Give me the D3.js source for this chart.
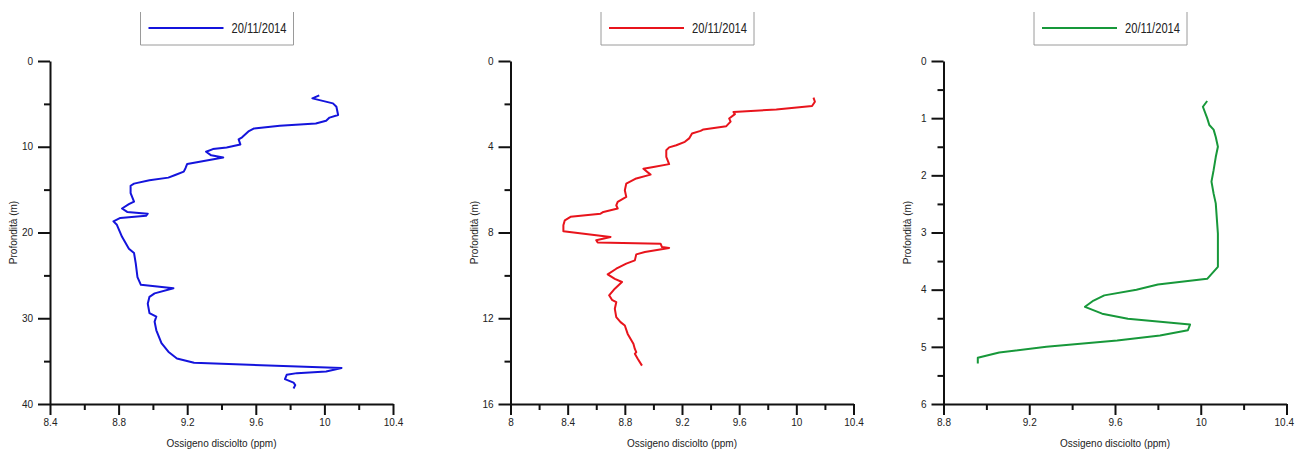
<!DOCTYPE html>
<html>
<head>
<meta charset="utf-8">
<script src="https://cdn.jsdelivr.net/npm/d3@7"></script>
<style>
  html, body { margin: 0; padding: 0; background: #ffffff; }
  svg { display: block; }
  text { font-family: "Liberation Sans", Arial, sans-serif; fill: #222; }
</style>
</head>
<body>
<svg id="chart" width="1295" height="450"></svg>
<script>
// Dissolved oxygen profiles, 20/11/2014 — three stations
const legendLabel = "20/11/2014";
const xTitle = "Ossigeno disciolto (ppm)";
const yTitle = "Profondità (m)";

// Station 1 (blue)
const depth1 = [4.0, 4.36, 4.94, 5.33, 6.3, 6.6, 6.97, 7.28, 7.55, 7.86, 8.17, 8.9, 9.14, 9.73, 10.08, 10.27, 10.58, 11.0, 11.25, 12.0, 12.5, 12.9, 13.3, 13.6, 13.9, 14.3, 14.55, 15.4, 16.4, 16.7, 17.2, 17.6, 17.8, 18.05, 18.3, 18.7, 19.1, 20.5, 21.9, 22.4, 23.6, 25.2, 26.1, 26.5, 27.1, 27.5, 28.3, 29.4, 29.8, 30.4, 31.4, 32.9, 33.9, 34.7, 35.2, 35.8, 36.2, 36.4, 36.6, 37.1, 37.5, 37.8, 38.2];
const oxygen1 = [9.97, 9.93, 10.05, 10.07, 10.08, 10.03, 10.01, 9.95, 9.74, 9.59, 9.56, 9.52, 9.50, 9.51, 9.43, 9.35, 9.31, 9.34, 9.41, 9.20, 9.19, 9.18, 9.13, 9.09, 8.98, 8.89, 8.87, 8.87, 8.89, 8.86, 8.82, 8.85, 8.97, 8.96, 8.81, 8.77, 8.79, 8.82, 8.86, 8.89, 8.90, 8.91, 8.93, 9.12, 9.01, 8.98, 8.97, 8.98, 9.02, 9.01, 9.02, 9.05, 9.09, 9.14, 9.24, 10.10, 10.01, 9.84, 9.78, 9.77, 9.82, 9.83, 9.82];

// Station 2 (red)
const depth2 = [1.71, 1.90, 2.10, 2.26, 2.38, 2.48, 2.68, 2.83, 3.04, 3.19, 3.26, 3.38, 3.61, 3.77, 3.93, 4.03, 4.16, 4.47, 4.81, 4.94, 5.03, 5.30, 5.48, 5.72, 6.03, 6.34, 6.57, 6.73, 6.88, 7.04, 7.12, 7.27, 7.43, 7.66, 7.94, 8.21, 8.36, 8.47, 8.52, 8.68, 8.72, 8.91, 9.02, 9.30, 9.45, 9.69, 9.95, 10.16, 10.31, 10.62, 10.93, 11.14, 11.25, 11.56, 11.95, 12.18, 12.34, 12.73, 13.19, 13.43, 13.58, 13.66, 13.89, 14.21];
const oxygen2 = [10.12, 10.13, 10.11, 9.86, 9.56, 9.57, 9.53, 9.54, 9.51, 9.35, 9.33, 9.27, 9.25, 9.22, 9.16, 9.11, 9.09, 9.09, 9.11, 9.00, 8.93, 8.98, 8.88, 8.81, 8.80, 8.81, 8.75, 8.74, 8.75, 8.65, 8.63, 8.42, 8.38, 8.37, 8.37, 8.70, 8.60, 8.61, 9.05, 9.06, 9.11, 8.94, 8.88, 8.87, 8.81, 8.74, 8.68, 8.73, 8.78, 8.73, 8.69, 8.71, 8.74, 8.73, 8.74, 8.77, 8.80, 8.82, 8.86, 8.87, 8.88, 8.87, 8.89, 8.92];

// Station 3 (green)
const depth3 = [0.70, 0.80, 1.00, 1.12, 1.20, 1.33, 1.50, 1.68, 1.91, 2.11, 2.32, 2.49, 3.02, 3.60, 3.81, 3.91, 4.00, 4.10, 4.19, 4.30, 4.42, 4.51, 4.61, 4.71, 4.80, 4.89, 5.00, 5.10, 5.19, 5.29];
const oxygen3 = [10.03, 10.01, 10.03, 10.04, 10.06, 10.07, 10.08, 10.07, 10.06, 10.05, 10.06, 10.07, 10.08, 10.08, 10.03, 9.80, 9.70, 9.55, 9.50, 9.46, 9.54, 9.66, 9.95, 9.94, 9.81, 9.61, 9.28, 9.06, 8.96, 8.96];

// Axis ranges and tick values
const xDomain1 = [8.4, 10.4], xMajor1 = [8.4, 8.8, 9.2, 9.6, 10, 10.4], xMinor1 = [8.6, 9.0, 9.4, 9.8, 10.2];
const yDomain1 = [0, 40], yMajor1 = [0, 10, 20, 30, 40], yMinor1 = [5, 15, 25, 35];
const xDomain2 = [8, 10.4], xMajor2 = [8, 8.4, 8.8, 9.2, 9.6, 10, 10.4], xMinor2 = [8.2, 8.6, 9.0, 9.4, 9.8, 10.2];
const yDomain2 = [0, 16], yMajor2 = [0, 4, 8, 12, 16], yMinor2 = [2, 6, 10, 14];
const xDomain3 = [8.8, 10.4], xMajor3 = [8.8, 9.2, 9.6, 10, 10.4], xMinor3 = [9.0, 9.4, 9.8, 10.2];
const yDomain3 = [0, 6], yMajor3 = [0, 1, 2, 3, 4, 5, 6], yMinor3 = [0.5, 1.5, 2.5, 3.5, 4.5, 5.5];

const svg = d3.select("#chart");
const fmt = d => String(+(+d).toFixed(1));

const panels = [
  { left: 50,    depth: depth1, oxygen: oxygen1, color: "#1414dc", xd: xDomain1, xM: xMajor1, xm: xMinor1, yd: yDomain1, yM: yMajor1, ym: yMinor1, legX: 140.5 },
  { left: 510.5, depth: depth2, oxygen: oxygen2, color: "#e8141c", xd: xDomain2, xM: xMajor2, xm: xMinor2, yd: yDomain2, yM: yMajor2, ym: yMinor2, legX: 601 },
  { left: 943.5, depth: depth3, oxygen: oxygen3, color: "#17983a", xd: xDomain3, xM: xMajor3, xm: xMinor3, yd: yDomain3, yM: yMajor3, ym: yMinor3, legX: 1034 }
];

const plotTop = 61, plotBottom = 404, plotW = 343;

panels.forEach((p, pi) => {
  const x = d3.scaleLinear().domain(p.xd).range([p.left, p.left + plotW]);
  const y = d3.scaleLinear().domain(p.yd).range([plotTop, plotBottom]);
  const g = svg.append("g");

  // minor ticks
  const xMinorAxis = d3.axisBottom(x).tickValues(p.xm).tickSize(6).tickFormat("").tickSizeOuter(0);
  g.append("g").attr("transform", `translate(0,${plotBottom})`).call(xMinorAxis)
    .call(s => s.select(".domain").remove());
  const yMinorAxis = d3.axisLeft(y).tickValues(p.ym).tickSize(6).tickFormat("").tickSizeOuter(0);
  g.append("g").attr("transform", `translate(${p.left},0)`).call(yMinorAxis)
    .call(s => s.select(".domain").remove());

  // major axes
  const xAxis = d3.axisBottom(x).tickValues(p.xM).tickSize(11).tickPadding(4).tickFormat(fmt).tickSizeOuter(0);
  const xa = g.append("g").attr("transform", `translate(0,${plotBottom})`).call(xAxis);
  const yAxis = d3.axisLeft(y).tickValues(p.yM).tickSize(12).tickPadding(5).tickFormat(fmt).tickSizeOuter(0);
  g.append("g").attr("transform", `translate(${p.left},0)`).call(yAxis);

  g.selectAll(".tick line, .domain").attr("stroke", "#111").attr("stroke-width", 2);
  g.selectAll(".tick text").attr("font-size", 10).attr("fill", "#333")
    .attr("font-family", "'Liberation Sans', Arial, sans-serif");

  // keep the right-most label of the last panel inside the page
  if (pi === panels.length - 1) {
    xa.selectAll(".tick:last-of-type text").attr("text-anchor", "end").attr("dx", 7);
  }

  // data line
  const pts = p.depth.map((d, i) => [p.oxygen[i], d]);
  g.append("path")
    .datum(pts)
    .attr("fill", "none")
    .attr("stroke", p.color)
    .attr("stroke-width", 2)
    .attr("stroke-linejoin", "round")
    .attr("d", d3.line().x(d => x(d[0])).y(d => y(d[1])));

  // axis titles
  g.append("text")
    .attr("x", p.left + plotW / 2).attr("y", 447)
    .attr("text-anchor", "middle").attr("font-size", 10).attr("fill", "#333")
    .text(xTitle);
  g.append("text")
    .attr("transform", `translate(${p.left - 33},${(plotTop + plotBottom) / 2}) rotate(-90)`)
    .attr("text-anchor", "middle").attr("font-size", 10).attr("fill", "#333")
    .text(yTitle);

  // legend (box open at the top edge)
  const lx = p.legX, lw = 153;
  g.append("path")
    .attr("d", `M${lx},12 V45 H${lx + lw} V12`)
    .attr("fill", "none").attr("stroke", "#9a9a9a").attr("stroke-width", 1);
  g.append("line")
    .attr("x1", lx + 8).attr("x2", lx + 83).attr("y1", 28).attr("y2", 28)
    .attr("stroke", p.color).attr("stroke-width", 2);
  g.append("text")
    .attr("x", lx + 91).attr("y", 33)
    .attr("font-size", 14).attr("fill", "#222")
    .attr("textLength", 55).attr("lengthAdjust", "spacingAndGlyphs")
    .text(legendLabel);
});
</script>
</body>
</html>
